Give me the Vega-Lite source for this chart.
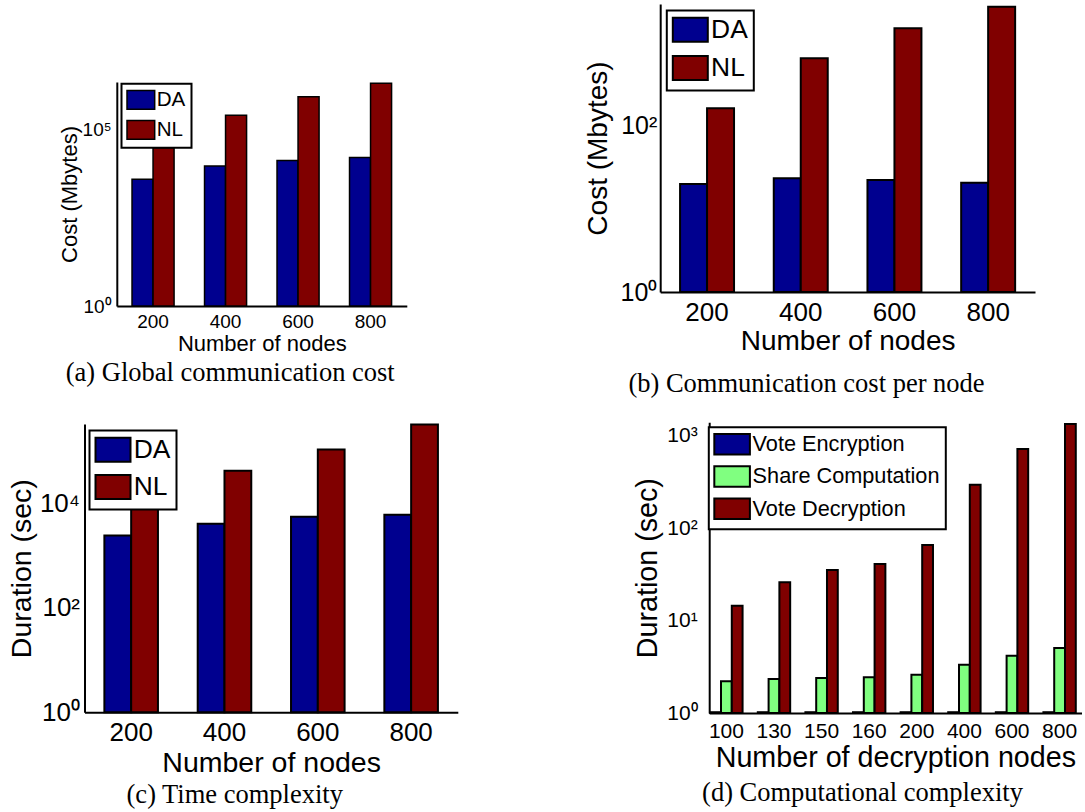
{
  "$schema": "https://vega.github.io/schema/vega-lite/v6.json",
  "autosize": {"type": "pad"},
  "padding": {"left": 6.5, "top": 4, "right": 0, "bottom": 0},
  "background": "white",
  "datasets": {
    "comm": [
      {"nodes": "200", "series": "DA", "global": 3850, "per": 19.9, "time": 2416},
      {"nodes": "200", "series": "NL", "global": 29600, "per": 162, "time": 8200},
      {"nodes": "400", "series": "DA", "global": 8980, "per": 23.3, "time": 4050},
      {"nodes": "400", "series": "NL", "global": 244000, "per": 647, "time": 42000},
      {"nodes": "600", "series": "DA", "global": 13000, "per": 22.2, "time": 5510},
      {"nodes": "600", "series": "NL", "global": 820000, "per": 1484, "time": 107000},
      {"nodes": "800", "series": "DA", "global": 15800, "per": 20.6, "time": 6020},
      {"nodes": "800", "series": "NL", "global": 1960000, "per": 2700, "time": 323000}
    ],
    "comp": [
      {"nodes": "100", "series": "Vote Encryption", "dur": 1.02},
      {"nodes": "100", "series": "Share Computation", "dur": 2.2},
      {"nodes": "100", "series": "Vote Decryption", "dur": 14.5},
      {"nodes": "130", "series": "Vote Encryption", "dur": 1.02},
      {"nodes": "130", "series": "Share Computation", "dur": 2.33},
      {"nodes": "130", "series": "Vote Decryption", "dur": 25.9},
      {"nodes": "150", "series": "Vote Encryption", "dur": 1.02},
      {"nodes": "150", "series": "Share Computation", "dur": 2.39},
      {"nodes": "150", "series": "Vote Decryption", "dur": 35.3},
      {"nodes": "160", "series": "Vote Encryption", "dur": 1.02},
      {"nodes": "160", "series": "Share Computation", "dur": 2.43},
      {"nodes": "160", "series": "Vote Decryption", "dur": 40.9},
      {"nodes": "200", "series": "Vote Encryption", "dur": 1.02},
      {"nodes": "200", "series": "Share Computation", "dur": 2.6},
      {"nodes": "200", "series": "Vote Decryption", "dur": 65.7},
      {"nodes": "400", "series": "Vote Encryption", "dur": 1.02},
      {"nodes": "400", "series": "Share Computation", "dur": 3.33},
      {"nodes": "400", "series": "Vote Decryption", "dur": 295},
      {"nodes": "600", "series": "Vote Encryption", "dur": 1.02},
      {"nodes": "600", "series": "Share Computation", "dur": 4.17},
      {"nodes": "600", "series": "Vote Decryption", "dur": 718},
      {"nodes": "800", "series": "Vote Encryption", "dur": 1.02},
      {"nodes": "800", "series": "Share Computation", "dur": 5.05},
      {"nodes": "800", "series": "Vote Decryption", "dur": 1339}
    ]
  },
  "columns": 2,
  "spacing": {"row": 116.3, "column": 201.7},
  "bounds": "flush",
  "align": "each",
  "resolve": {
    "scale": {"color": "independent", "x": "independent", "y": "independent", "xOffset": "independent"},
    "legend": {"color": "independent"}
  },
  "concat": [
    {
      "width": 322.3,
      "height": 302,
      "data": {"name": "comm"},
      "title": {"text": "(a) Global communication cost", "dx": -15.4, "offset": 6},
      "mark": {"type": "bar", "stroke": "black", "strokeWidth": 1.5},
      "encoding": {
        "x": {
          "field": "nodes", "type": "nominal", "sort": ["200", "400", "600", "800"],
          "scale": {"range": [32.3, 322.3], "paddingInner": 0.42, "paddingOuter": 0.21},
          "axis": {"title": "Number of nodes", "labelAngle": 0, "labelFontSize": 19, "titleFontSize": 22, "labelPadding": 6, "titlePadding": 2}
        },
        "xOffset": {"field": "series", "type": "nominal", "scale": {"domain": ["DA", "NL"]}},
        "y": {
          "field": "global", "type": "quantitative",
          "scale": {"type": "log", "domain": [1, 2140000], "range": [302, 78], "nice": false},
          "axis": {"title": "Cost (Mbytes)", "values": [1, 100000], "labelExpr": "datum.value < 10 ? '10⁰' : '10⁵'", "offset": -32.3, "labelFontSize": 19, "titleFontSize": 22, "labelPadding": 5.7, "titlePadding": 1}
        },
        "y2": {"datum": 1},
        "stroke": {"value": "black"},
        "strokeWidth": {"value": 1.5},
        "color": {
          "field": "series", "type": "nominal",
          "scale": {"domain": ["DA", "NL"], "range": ["#00008F", "#800000"]},
          "legend": {"title": null, "orient": "none", "legendX": 37, "legendY": 79.8, "symbolType": "M-1.48,-1H1.48V1H-1.48Z", "symbolSize": 350, "symbolStrokeColor": "black", "symbolStrokeWidth": 1.5, "symbolOffset": 3.35, "labelOffset": 5.35, "rowPadding": 5, "padding": 5.5, "labelFontSize": 20.6}
        }
      }
    },
    {
      "width": 374.8,
      "height": 288,
      "data": {"name": "comm"},
      "title": {"text": "(b) Communication cost per node", "dx": -41.1, "offset": 16},
      "mark": {"type": "bar", "stroke": "black", "strokeWidth": 2},
      "encoding": {
        "x": {
          "field": "nodes", "type": "nominal", "sort": ["200", "400", "600", "800"],
          "scale": {"paddingInner": 0.424, "paddingOuter": 0.212},
          "axis": {"title": "Number of nodes", "labelAngle": 0, "labelFontSize": 26, "titleFontSize": 28, "labelPadding": 7, "titlePadding": 2}
        },
        "xOffset": {"field": "series", "type": "nominal", "scale": {"domain": ["DA", "NL"]}},
        "y": {
          "field": "per", "type": "quantitative",
          "scale": {"type": "log", "domain": [1, 2910], "nice": false},
          "axis": {"title": "Cost (Mbytes)", "values": [1, 100], "labelExpr": "datum.value < 10 ? '10⁰' : '10²'", "labelFontSize": 25, "titleFontSize": 28, "labelPadding": 3.4, "titlePadding": 7}
        },
        "y2": {"datum": 1},
        "stroke": {"value": "black"},
        "strokeWidth": {"value": 2},
        "color": {
          "field": "series", "type": "nominal",
          "scale": {"domain": ["DA", "NL"], "range": ["#00008F", "#800000"]},
          "legend": {"title": null, "orient": "none", "legendX": 6.6, "legendY": 6.5, "symbolType": "M-1.458,-1H1.458V1H-1.458Z", "symbolSize": 576, "symbolStrokeColor": "black", "symbolStrokeWidth": 2, "symbolOffset": 4.3, "labelOffset": 7.6, "rowPadding": 5.3, "padding": 6, "labelFontSize": 26.4}
        }
      }
    },
    {
      "width": 373.3,
      "height": 290,
      "data": {"name": "comm"},
      "title": {"text": "(c) Time complexity", "dx": -36.4, "offset": 5},
      "mark": {"type": "bar", "stroke": "black", "strokeWidth": 2},
      "encoding": {
        "x": {
          "field": "nodes", "type": "nominal", "sort": ["200", "400", "600", "800"],
          "scale": {"paddingInner": 0.426, "paddingOuter": 0.213},
          "axis": {"title": "Number of nodes", "labelAngle": 0, "labelFontSize": 26, "titleFontSize": 28.5, "labelPadding": 7, "titlePadding": 3}
        },
        "xOffset": {"field": "series", "type": "nominal", "scale": {"domain": ["DA", "NL"]}},
        "y": {
          "field": "time", "type": "quantitative",
          "scale": {"type": "log", "domain": [1, 330000], "range": [290, 1.7], "nice": false},
          "axis": {"title": "Duration (sec)", "values": [1, 100, 10000], "labelExpr": "datum.value < 10 ? '10⁰' : datum.value < 1000 ? '10²' : '10⁴'", "labelFontSize": 26, "titleFontSize": 28.5, "labelPadding": 5, "titlePadding": 3}
        },
        "y2": {"datum": 1},
        "stroke": {"value": "black"},
        "strokeWidth": {"value": 2},
        "color": {
          "field": "series", "type": "nominal",
          "scale": {"domain": ["DA", "NL"], "range": ["#00008F", "#800000"]},
          "legend": {"title": null, "orient": "none", "legendX": 5, "legendY": 8.2, "symbolType": "M-1.458,-1H1.458V1H-1.458Z", "symbolSize": 576, "symbolStrokeColor": "black", "symbolStrokeWidth": 2, "symbolOffset": 4.3, "labelOffset": 7.6, "rowPadding": 4.3, "padding": 6, "labelFontSize": 26.4}
        }
      }
    },
    {
      "width": 421.3,
      "height": 290.7,
      "data": {"name": "comp"},
      "title": {"text": "(d) Computational complexity", "dx": -8.35, "offset": 8},
      "mark": {"type": "bar", "stroke": "black", "strokeWidth": 2},
      "encoding": {
        "x": {
          "field": "nodes", "type": "nominal", "sort": ["100", "130", "150", "160", "200", "400", "600", "800"],
          "scale": {"range": [49, 421.3], "paddingInner": 0.32, "paddingOuter": 0.0706, "align": 0.15},
          "axis": {"title": "Number of decryption nodes", "labelAngle": 0, "labelFontSize": 21, "titleFontSize": 28.7, "labelPadding": 7.5, "titlePadding": 2}
        },
        "xOffset": {"field": "series", "type": "nominal", "scale": {"domain": ["Vote Encryption", "Share Computation", "Vote Decryption"]}},
        "y": {
          "field": "dur", "type": "quantitative",
          "scale": {"type": "log", "domain": [1, 1397], "nice": false},
          "axis": {"title": "Duration (sec)", "values": [1, 10, 100, 1000], "labelExpr": "datum.value < 5 ? '10⁰' : datum.value < 50 ? '10¹' : datum.value < 500 ? '10²' : '10³'", "offset": -49, "labelFontSize": 21, "titleFontSize": 28.7, "labelPadding": 12, "titlePadding": 4}
        },
        "y2": {"datum": 1},
        "stroke": {"value": "black"},
        "strokeWidth": {"value": 2},
        "color": {
          "field": "series", "type": "nominal",
          "scale": {"domain": ["Vote Encryption", "Share Computation", "Vote Decryption"], "range": ["#00008F", "#80FF80", "#800000"]},
          "legend": {"title": null, "orient": "none", "legendX": 48.6, "legendY": 4.9, "symbolType": "M-1.728,-1H1.728V1H-1.728Z", "symbolSize": 424, "symbolStrokeColor": "black", "symbolStrokeWidth": 2, "symbolOffset": 6.3, "labelOffset": 9, "rowPadding": 3.3, "padding": 5.5, "labelFontSize": 21.7, "labelLimit": 400}
        }
      }
    }
  ],
  "config": {
    "font": "Liberation Sans",
    "view": {"stroke": null},
    "axis": {"grid": false, "ticks": false, "tickSize": 0, "domainColor": "black", "domainWidth": 2, "labelColor": "black", "titleColor": "black", "titleFontWeight": "normal", "labelFont": "Liberation Sans", "titleFont": "Liberation Sans"},
    "legend": {"strokeColor": "black", "strokeWidth": 2, "fillColor": "white", "cornerRadius": 0, "labelColor": "black", "labelFont": "Liberation Sans", "labelLimit": 400, "symbolOpacity": 1},
    "title": {"font": "Liberation Serif", "fontSize": 26.5, "fontWeight": "normal", "color": "black", "orient": "bottom", "anchor": "middle", "frame": "group"}
  }
}
